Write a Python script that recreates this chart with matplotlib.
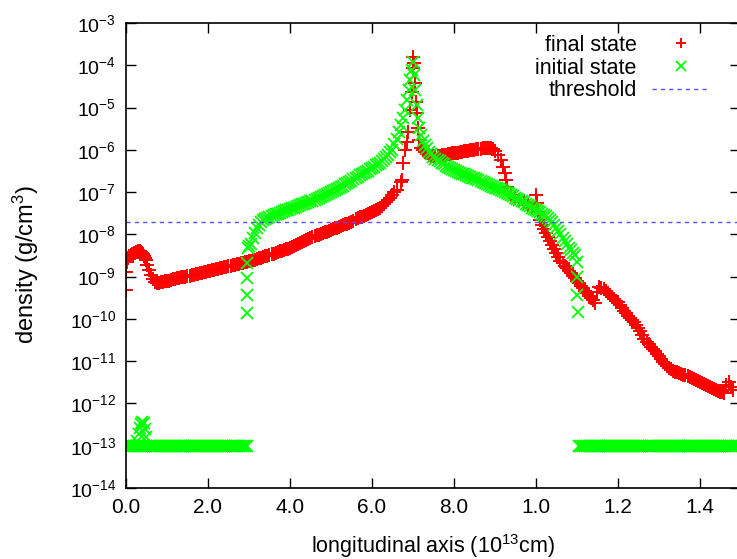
import matplotlib
matplotlib.use('Agg')
import matplotlib.pyplot as plt

# (position in 1e13 cm, density in g/cm^3)
final_state = [
    (0.0, 4.8e-10), (0.01, 1.3e-9), (0.02, 2.2e-9), (0.03, 2.6e-9), (0.05, 2.8e-9), (0.075, 3.0e-9),
    (0.1, 3.1e-9), (0.125, 3.25e-9), (0.15, 3.4e-9), (0.175, 3.5e-9), (0.2, 3.6e-9), (0.225, 3.7e-9),
    (0.25, 3.8e-9), (0.275, 3.9e-9), (0.3, 4.0e-9), (0.325, 4.0e-9), (0.35, 4.0e-9), (0.375, 3.8e-9),
    (0.4, 3.6e-9), (0.425, 3.4e-9), (0.45, 3.1e-9), (0.475, 2.8e-9), (0.5, 2.5e-9), (0.52, 1.9e-9),
    (0.56, 1.4e-9), (0.6, 1.1e-9), (0.65, 8.8e-10), (0.7, 7.5e-10), (0.75, 6.9e-10),
    (0.8, 7.1e-10), (0.85, 7.3e-10), (0.9, 7.5e-10), (0.95, 7.7e-10), (1.0, 7.9e-10), (1.05, 8.1e-10),
    (1.1, 8.35e-10), (1.15, 8.6e-10), (1.2, 8.8e-10), (1.25, 9.05e-10), (1.3, 9.3e-10), (1.35, 9.55e-10),
    (1.4, 9.8e-10), (1.45, 1.0e-9), (1.5, 1.03e-9), (1.55, 1.05e-9), (1.6, 1.08e-9), (1.65, 1.11e-9),
    (1.7, 1.14e-9), (1.75, 1.17e-9), (1.8, 1.21e-9), (1.85, 1.24e-9), (1.9, 1.27e-9), (1.95, 1.3e-9),
    (2.0, 1.34e-9), (2.05, 1.38e-9), (2.1, 1.42e-9), (2.15, 1.46e-9), (2.2, 1.5e-9), (2.25, 1.54e-9),
    (2.3, 1.58e-9), (2.35, 1.62e-9), (2.4, 1.67e-9), (2.45, 1.71e-9), (2.5, 1.76e-9), (2.55, 1.81e-9),
    (2.6, 1.86e-9), (2.65, 1.91e-9), (2.7, 1.96e-9), (2.75, 2.01e-9), (2.8, 2.07e-9), (2.85, 2.12e-9),
    (2.9, 2.18e-9), (2.95, 2.23e-9), (3.0, 2.29e-9), (3.05, 2.37e-9), (3.1, 2.45e-9), (3.15, 2.54e-9),
    (3.2, 2.63e-9), (3.25, 2.72e-9), (3.3, 2.82e-9), (3.35, 2.92e-9), (3.4, 3.03e-9), (3.45, 3.14e-9),
    (3.5, 3.26e-9), (3.55, 3.38e-9), (3.6, 3.51e-9), (3.65, 3.65e-9), (3.7, 3.79e-9), (3.75, 3.94e-9),
    (3.8, 4.09e-9), (3.85, 4.25e-9), (3.9, 4.41e-9), (3.95, 4.59e-9), (4.0, 4.77e-9), (4.05, 5.0e-9),
    (4.1, 5.3e-9), (4.15, 5.6e-9), (4.2, 5.9e-9), (4.25, 6.25e-9), (4.3, 6.6e-9), (4.35, 7.0e-9),
    (4.4, 7.4e-9), (4.45, 7.8e-9), (4.5, 8.2e-9), (4.55, 8.6e-9), (4.6, 9.0e-9), (4.65, 9.4e-9),
    (4.7, 9.8e-9), (4.75, 1.02e-8), (4.8, 1.07e-8), (4.85, 1.11e-8), (4.9, 1.16e-8), (4.95, 1.21e-8),
    (5.0, 1.27e-8), (5.05, 1.33e-8), (5.1, 1.39e-8), (5.15, 1.45e-8), (5.2, 1.51e-8), (5.25, 1.58e-8),
    (5.3, 1.65e-8), (5.35, 1.72e-8), (5.4, 1.8e-8), (5.45, 1.88e-8), (5.5, 1.97e-8), (5.55, 2.1e-8),
    (5.6, 2.25e-8), (5.65, 2.38e-8), (5.7, 2.51e-8), (5.75, 2.62e-8), (5.8, 2.73e-8), (5.85, 2.88e-8),
    (5.9, 3.04e-8), (5.95, 3.21e-8), (6.0, 3.39e-8), (6.05, 3.58e-8), (6.1, 3.78e-8), (6.15, 3.98e-8),
    (6.2, 4.2e-8), (6.25, 4.7e-8), (6.3, 5.25e-8), (6.35, 5.85e-8), (6.4, 6.5e-8), (6.45, 7.4e-8),
    (6.5, 8.5e-8), (6.55, 9.8e-8), (6.6, 1.12e-7),
    (6.7, 1.7e-7), (6.73, 1.9e-7), (6.76, 4.9e-7), (6.8, 1.0e-6), (6.85, 1.5e-6), (6.88, 2.6e-6),
    (6.93, 8.7e-6), (6.97, 2.3e-5), (7.0, 8.6e-5), (7.01, 1.6e-4), (7.03, 1.13e-4), (7.05, 3.8e-5),
    (7.07, 1.35e-5), (7.1, 7.4e-6), (7.13, 3.3e-6), (7.16, 1.7e-6),
    (7.2, 1.1e-6), (7.25, 9.9e-7), (7.3, 8.9e-7), (7.35, 8.2e-7), (7.4, 7.5e-7), (7.45, 7.3e-7),
    (7.5, 7.1e-7), (7.55, 7.1e-7), (7.6, 7.1e-7), (7.65, 7.3e-7), (7.7, 7.5e-7), (7.75, 7.6e-7),
    (7.8, 7.7e-7), (7.85, 7.85e-7), (7.9, 8.0e-7), (7.95, 8.2e-7), (8.0, 8.4e-7), (8.05, 8.5e-7),
    (8.1, 8.6e-7), (8.15, 8.75e-7), (8.2, 8.9e-7), (8.25, 9.15e-7), (8.3, 9.4e-7), (8.35, 9.55e-7),
    (8.4, 9.7e-7), (8.45, 9.85e-7), (8.5, 1.0e-6), (8.55, 1.02e-6), (8.6, 1.04e-6), (8.65, 1.07e-6),
    (8.7, 1.1e-6), (8.75, 1.12e-6), (8.8, 1.13e-6), (8.85, 1.12e-6), (8.9, 1.1e-6), (8.95, 1.03e-6),
    (9.0, 9.4e-7), (9.08, 7.5e-7), (9.14, 5.7e-7), (9.2, 3.9e-7), (9.24, 2.8e-7), (9.27, 1.9e-7),
    (9.3, 1.3e-7), (9.4, 8.5e-8), (9.5, 7.4e-8), (9.6, 6.5e-8), (9.7, 5.7e-8), (9.8, 4.9e-8), (9.9, 4.3e-8),
    (10.0, 8.5e-8), (10.02, 5.5e-8), (10.05, 3.4e-8), (10.1, 2.2e-8), (10.15, 1.7e-8), (10.2, 1.34e-8),
    (10.25, 1.08e-8), (10.3, 8.7e-9), (10.35, 7.0e-9), (10.4, 5.6e-9), (10.45, 4.5e-9), (10.5, 3.6e-9),
    (10.55, 2.9e-9), (10.6, 2.35e-9), (10.65, 2.05e-9), (10.7, 1.8e-9), (10.75, 1.56e-9), (10.8, 1.36e-9),
    (10.85, 1.19e-9), (10.9, 1.04e-9), (10.95, 9.1e-10), (11.0, 7.9e-10), (11.05, 6.9e-10), (11.1, 6.0e-10),
    (11.15, 5.25e-10), (11.2, 4.6e-10), (11.25, 4.0e-10), (11.3, 3.5e-10), (11.35, 3.1e-10), (11.4, 2.8e-10),
    (11.45, 2.4e-10), (11.5, 4.3e-10), (11.55, 5.7e-10), (11.6, 5.4e-10), (11.65, 5.0e-10), (11.7, 4.6e-10),
    (11.75, 4.1e-10), (11.8, 3.7e-10), (11.85, 3.3e-10), (11.9, 2.95e-10), (11.95, 2.7e-10), (12.0, 2.5e-10),
    (12.05, 2.1e-10), (12.1, 1.8e-10), (12.15, 1.58e-10), (12.2, 1.38e-10), (12.25, 1.2e-10), (12.3, 1.05e-10),
    (12.35, 9.4e-11), (12.4, 8.4e-11), (12.45, 7.2e-11), (12.5, 6.1e-11), (12.55, 5.1e-11), (12.6, 4.2e-11),
    (12.65, 3.4e-11), (12.7, 2.8e-11), (12.75, 2.5e-11), (12.8, 2.2e-11), (12.85, 1.95e-11), (12.9, 1.75e-11),
    (12.95, 1.5e-11), (13.0, 1.3e-11), (13.05, 1.1e-11), (13.1, 9.6e-12), (13.15, 8.6e-12), (13.2, 7.7e-12),
    (13.25, 7.0e-12), (13.3, 6.4e-12), (13.35, 6.0e-12), (13.4, 5.7e-12), (13.45, 5.5e-12), (13.5, 5.3e-12),
    (13.55, 5.0e-12), (13.6, 4.8e-12), (13.65, 4.65e-12), (13.7, 4.5e-12), (13.75, 4.25e-12), (13.8, 4.0e-12),
    (13.85, 3.8e-12), (13.9, 3.6e-12), (13.95, 3.4e-12), (14.0, 3.2e-12), (14.05, 3.05e-12), (14.1, 2.9e-12),
    (14.15, 2.75e-12), (14.2, 2.6e-12), (14.25, 2.45e-12), (14.3, 2.3e-12), (14.35, 2.2e-12), (14.4, 2.1e-12),
    (14.45, 2.0e-12), (14.5, 1.9e-12), (14.55, 1.85e-12), (14.6, 1.8e-12), (14.65, 2.7e-12), (14.7, 3.2e-12),
    (14.75, 2.5e-12), (14.8, 2.1e-12),
]

initial_state = [
    (0.0, 1e-13), (0.05, 1e-13), (0.1, 1e-13), (0.15, 1e-13), (0.2, 1e-13), (0.25, 1e-13), (0.3, 1e-13),
    (0.35, 1e-13), (0.4, 1e-13), (0.45, 1e-13), (0.5, 1e-13), (0.55, 1e-13), (0.6, 1e-13), (0.65, 1e-13),
    (0.7, 1e-13), (0.75, 1e-13), (0.8, 1e-13), (0.85, 1e-13), (0.9, 1e-13), (0.95, 1e-13), (1.0, 1e-13),
    (1.05, 1e-13), (1.1, 1e-13), (1.15, 1e-13), (1.2, 1e-13), (1.25, 1e-13), (1.3, 1e-13), (1.35, 1e-13),
    (1.4, 1e-13), (1.45, 1e-13), (1.5, 1e-13), (1.55, 1e-13), (1.6, 1e-13), (1.65, 1e-13), (1.7, 1e-13),
    (1.75, 1e-13), (1.8, 1e-13), (1.85, 1e-13), (1.9, 1e-13), (1.95, 1e-13), (2.0, 1e-13), (2.05, 1e-13),
    (2.1, 1e-13), (2.15, 1e-13), (2.2, 1e-13), (2.25, 1e-13), (2.3, 1e-13), (2.35, 1e-13), (2.4, 1e-13),
    (2.45, 1e-13), (2.5, 1e-13), (2.55, 1e-13), (2.6, 1e-13), (2.65, 1e-13), (2.7, 1e-13), (2.75, 1e-13),
    (2.8, 1e-13), (2.85, 1e-13), (2.9, 1e-13), (2.95, 1e-13),
    (0.27, 1.3e-13), (0.31, 1.9e-13), (0.34, 2.6e-13), (0.37, 3.3e-13), (0.4, 3.7e-13), (0.43, 3.4e-13),
    (0.46, 2.5e-13), (0.49, 1.6e-13),
    (2.95, 1.4e-10), (2.95, 3.7e-10), (2.95, 9.3e-10), (2.96, 2.1e-9), (2.97, 4.8e-9),
    (3.0, 5.2e-9), (3.05, 5.9e-9), (3.1, 8.2e-9), (3.15, 1.08e-8), (3.2, 1.41e-8), (3.25, 1.68e-8),
    (3.3, 1.96e-8), (3.35, 2.13e-8), (3.4, 2.3e-8), (3.45, 2.45e-8), (3.5, 2.6e-8), (3.55, 2.75e-8),
    (3.6, 2.9e-8), (3.65, 3.0e-8), (3.7, 3.1e-8), (3.75, 3.25e-8), (3.8, 3.4e-8), (3.85, 3.55e-8),
    (3.9, 3.7e-8), (3.95, 3.85e-8), (4.0, 4.0e-8), (4.05, 4.15e-8), (4.1, 4.3e-8), (4.15, 4.5e-8),
    (4.2, 4.7e-8), (4.25, 4.9e-8), (4.3, 5.1e-8), (4.35, 5.3e-8), (4.4, 5.5e-8), (4.45, 5.75e-8),
    (4.5, 6.0e-8), (4.55, 6.25e-8), (4.6, 6.5e-8), (4.65, 6.85e-8), (4.7, 7.2e-8), (4.75, 7.65e-8),
    (4.8, 8.1e-8), (4.85, 8.55e-8), (4.9, 9.0e-8), (4.95, 9.5e-8), (5.0, 1.0e-7), (5.05, 1.06e-7),
    (5.1, 1.12e-7), (5.15, 1.18e-7), (5.2, 1.25e-7), (5.25, 1.34e-7), (5.3, 1.43e-7), (5.35, 1.53e-7),
    (5.4, 1.64e-7), (5.45, 1.76e-7), (5.5, 1.88e-7), (5.55, 2.0e-7), (5.6, 2.15e-7), (5.65, 2.3e-7),
    (5.7, 2.5e-7), (5.75, 2.65e-7), (5.8, 2.8e-7), (5.85, 3.0e-7), (5.9, 3.2e-7), (5.95, 3.45e-7),
    (6.0, 3.7e-7), (6.05, 4.0e-7), (6.1, 4.3e-7), (6.15, 4.6e-7), (6.2, 4.9e-7), (6.25, 5.45e-7),
    (6.3, 6.1e-7), (6.35, 6.8e-7), (6.4, 7.5e-7), (6.45, 8.7e-7), (6.5, 1.0e-6), (6.55, 1.35e-6),
    (6.6, 1.8e-6), (6.65, 2.6e-6), (6.7, 3.9e-6), (6.75, 5.8e-6), (6.8, 8.7e-6), (6.85, 1.5e-5),
    (6.9, 2.6e-5), (6.94, 4.5e-5), (6.97, 7.7e-5), (7.0, 1.2e-4), (7.03, 5.9e-5), (7.06, 2.6e-5),
    (7.09, 1.15e-5), (7.12, 5.7e-6), (7.16, 3.3e-6), (7.2, 2.2e-6), (7.25, 1.6e-6), (7.3, 1.3e-6),
    (7.35, 1.08e-6), (7.4, 8.9e-7), (7.45, 7.8e-7), (7.5, 6.8e-7), (7.55, 6.2e-7), (7.6, 5.7e-7),
    (7.65, 5.3e-7), (7.7, 4.9e-7), (7.75, 4.5e-7), (7.8, 4.1e-7), (7.85, 3.9e-7), (7.9, 3.7e-7),
    (7.95, 3.5e-7), (8.0, 3.3e-7), (8.05, 3.15e-7), (8.1, 3.0e-7), (8.15, 2.87e-7), (8.2, 2.75e-7),
    (8.25, 2.62e-7), (8.3, 2.5e-7), (8.35, 2.4e-7), (8.4, 2.3e-7), (8.45, 2.2e-7), (8.5, 2.1e-7),
    (8.55, 2.0e-7), (8.6, 1.9e-7), (8.65, 1.8e-7), (8.7, 1.7e-7), (8.75, 1.62e-7), (8.8, 1.55e-7),
    (8.85, 1.47e-7), (8.9, 1.4e-7), (8.95, 1.34e-7), (9.0, 1.28e-7), (9.05, 1.23e-7), (9.1, 1.18e-7),
    (9.15, 1.12e-7), (9.2, 1.06e-7), (9.25, 1.0e-7), (9.3, 9.5e-8), (9.35, 9.0e-8), (9.4, 8.5e-8),
    (9.45, 7.9e-8), (9.5, 7.4e-8), (9.55, 6.9e-8), (9.6, 6.5e-8), (9.65, 6.1e-8), (9.7, 5.7e-8),
    (9.75, 5.3e-8), (9.8, 4.9e-8), (9.85, 4.6e-8), (9.9, 4.3e-8), (9.95, 4.05e-8), (10.0, 3.8e-8),
    (10.05, 3.55e-8), (10.1, 3.3e-8), (10.15, 3.1e-8), (10.2, 2.9e-8), (10.25, 2.65e-8), (10.3, 2.4e-8),
    (10.35, 2.2e-8), (10.4, 2.0e-8), (10.45, 1.7e-8), (10.5, 1.41e-8), (10.55, 1.2e-8), (10.6, 1.0e-8),
    (10.65, 8.4e-9), (10.7, 7.0e-9), (10.75, 5.8e-9), (10.8, 4.8e-9), (10.85, 4.2e-9), (10.9, 3.6e-9),
    (10.95, 3.2e-9),
    (11.0, 2.2e-9), (11.01, 1.0e-9), (11.01, 3.7e-10), (11.02, 1.45e-10),
    (11.05, 1e-13), (11.1, 1e-13), (11.15, 1e-13), (11.2, 1e-13), (11.25, 1e-13), (11.3, 1e-13),
    (11.35, 1e-13), (11.4, 1e-13), (11.45, 1e-13), (11.5, 1e-13), (11.55, 1e-13), (11.6, 1e-13),
    (11.65, 1e-13), (11.7, 1e-13), (11.75, 1e-13), (11.8, 1e-13), (11.85, 1e-13), (11.9, 1e-13),
    (11.95, 1e-13), (12.0, 1e-13), (12.05, 1e-13), (12.1, 1e-13), (12.15, 1e-13), (12.2, 1e-13),
    (12.25, 1e-13), (12.3, 1e-13), (12.35, 1e-13), (12.4, 1e-13), (12.45, 1e-13), (12.5, 1e-13),
    (12.55, 1e-13), (12.6, 1e-13), (12.65, 1e-13), (12.7, 1e-13), (12.75, 1e-13), (12.8, 1e-13),
    (12.85, 1e-13), (12.9, 1e-13), (12.95, 1e-13), (13.0, 1e-13), (13.05, 1e-13), (13.1, 1e-13),
    (13.15, 1e-13), (13.2, 1e-13), (13.25, 1e-13), (13.3, 1e-13), (13.35, 1e-13), (13.4, 1e-13),
    (13.45, 1e-13), (13.5, 1e-13), (13.55, 1e-13), (13.6, 1e-13), (13.65, 1e-13), (13.7, 1e-13),
    (13.75, 1e-13), (13.8, 1e-13), (13.85, 1e-13), (13.9, 1e-13), (13.95, 1e-13), (14.0, 1e-13),
    (14.05, 1e-13), (14.1, 1e-13), (14.15, 1e-13), (14.2, 1e-13), (14.25, 1e-13), (14.3, 1e-13),
    (14.35, 1e-13), (14.4, 1e-13), (14.45, 1e-13), (14.5, 1e-13), (14.55, 1e-13), (14.6, 1e-13),
    (14.65, 1e-13), (14.7, 1e-13), (14.75, 1e-13), (14.8, 1e-13), (14.85, 1e-13), (14.9, 1e-13),
    (14.95, 1e-13),
]

threshold = 2e-8

x_ticks = [0, 2, 4, 6, 8, 10, 12, 14]
x_tick_labels = ['0.0', '2.0', '4.0', '6.0', '8.0', '1.0', '1.2', '1.4']
y_ticks = [1e-14, 1e-13, 1e-12, 1e-11, 1e-10, 1e-9, 1e-8, 1e-7, 1e-6, 1e-5, 1e-4, 1e-3]
y_tick_labels = ['$10^{-14}$', '$10^{-13}$', '$10^{-12}$', '$10^{-11}$', '$10^{-10}$', '$10^{-9}$',
                 '$10^{-8}$', '$10^{-7}$', '$10^{-6}$', '$10^{-5}$', '$10^{-4}$', '$10^{-3}$']

plt.rcParams['font.family'] = ['Liberation Sans', 'DejaVu Sans']
plt.rcParams['mathtext.default'] = 'regular'
plt.rcParams['font.size'] = 15

fig = plt.figure(figsize=(7.37, 5.59), dpi=100)
ax = fig.add_axes([126 / 737, 1 - 488 / 559, (740 - 126) / 737, (488 - 23) / 559])

rx, ry = zip(*final_state)
gx, gy = zip(*initial_state)
ax.plot(rx, ry, ls='none', marker='+', ms=9.5, mew=1.4, color='#ff0000', label='final state')
ax.plot(gx, gy, ls='none', marker='x', ms=9, mew=1.3, color='#00ff00', label='initial state')
ax.axhline(threshold, color='#5050ff', lw=1.0, dashes=(3, 3), label='threshold')

ax.set_yscale('log')
ax.set_ylim(1e-14, 1e-3)
ax.set_xlim(0, 14.98)
ax.set_xticks(x_ticks, x_tick_labels)
ax.set_yticks(y_ticks, y_tick_labels)
ax.minorticks_off()
ax.tick_params(direction='in', length=7, width=1, top=True, right=True, labelsize=15)
ax.tick_params(axis='x', pad=7)
ax.tick_params(axis='y', pad=7, labelsize=14)
for s in ax.spines.values():
    s.set_linewidth(1.2)

ax.set_xlabel('longitudinal axis (10$^{13}$cm)', fontsize=15.5)
ax.set_ylabel('density (g/cm$^{3}$)', fontsize=17)
ax.xaxis.set_label_coords(0.5, -0.095)
ax.yaxis.set_label_coords(-0.138, 0.48)

handles, labels = ax.get_legend_handles_labels()
ax.legend(handles, labels, loc='upper right', bbox_to_anchor=(710 / 737, 1 - 35 / 559),
          bbox_transform=fig.transFigure, frameon=False, markerfirst=False, numpoints=1,
          handlelength=2.7, handletextpad=0.7, labelspacing=0.08, borderpad=0, borderaxespad=0,
          fontsize=15.5, markerscale=0.8)

fig.savefig('out.png', dpi=100)
